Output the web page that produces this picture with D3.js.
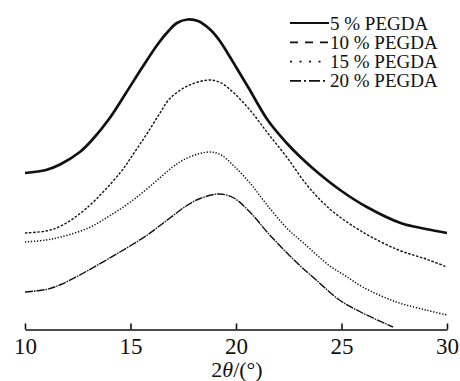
<!DOCTYPE html>
<html>
<head>
<meta charset="utf-8">
<script src="https://cdn.jsdelivr.net/npm/d3@7/dist/d3.min.js"></script>
<style>
  html, body { margin: 0; padding: 0; background: #fff; }
  svg { display: block; }
  text { font-family: "Liberation Serif", "Times New Roman", serif; fill: #111; }
</style>
</head>
<body>
<svg id="chart" width="460" height="381"></svg>
<script>
// XRD patterns of the PEGDA hydrogels (intensity in arbitrary units, curves offset)
const seriesNames = ["5 % PEGDA", "10 % PEGDA", "15 % PEGDA", "20 % PEGDA"];

const angle5 = [10, 11, 11.66, 12.6, 13.2, 14, 14.8, 15.6, 16.3, 16.8, 17.2, 17.7, 18.2, 18.8, 19.2, 19.6, 20, 20.6, 21.5, 22.4, 23, 23.9, 25, 26.2, 27.8, 29, 30];
const intensity5 = [1565, 1595, 1650, 1775, 1900, 2110, 2370, 2635, 2855, 2985, 3065, 3100, 3085, 2995, 2895, 2765, 2625, 2415, 2095, 1865, 1735, 1565, 1385, 1225, 1065, 1005, 965];

const angle10 = [10, 11, 11.7, 12.9, 14.5, 15.2, 15.8, 16.4, 16.8, 17.3, 17.7, 18.2, 18.8, 19.3, 19.9, 20.7, 21.5, 22.4, 23.4, 24.5, 26, 27.7, 29, 30];
const intensity10 = [965, 985, 1035, 1210, 1565, 1775, 1965, 2165, 2295, 2385, 2435, 2475, 2495, 2465, 2365, 2185, 1965, 1725, 1435, 1195, 975, 795, 705, 625];

const angle15 = [10, 11, 11.7, 13, 14, 15, 16, 17, 17.5, 18.2, 18.8, 19.3, 19.9, 20.7, 21.4, 22.4, 23.2, 24.45, 25.2, 26, 27.6, 29, 30];
const intensity15 = [875, 895, 925, 1015, 1135, 1275, 1445, 1625, 1695, 1755, 1775, 1745, 1635, 1455, 1265, 1015, 865, 635, 535, 425, 275, 195, 145];

const angle20 = [10, 11, 11.7, 12.9, 14.5, 15.8, 16.4, 16.9, 17.6, 18.3, 19.2, 19.9, 20.7, 21.6, 22.9, 23.8, 24.9, 26, 27.44];
const intensity20 = [375, 400, 450, 580, 775, 945, 1040, 1120, 1230, 1310, 1355, 1315, 1165, 945, 665, 495, 295, 165, 25];

const xTicks = [10, 15, 20, 25, 30];

const plotSeries = [
  { name: seriesNames[0], x: angle5,  y: intensity5,  width: 2.7, dash: null,        legendDash: null,       legendLen: 39 },
  { name: seriesNames[1], x: angle10, y: intensity10, width: 1.4, dash: "2.5,1.6",   legendDash: "8,7",      legendLen: 38 },
  { name: seriesNames[2], x: angle15, y: intensity15, width: 1.5, dash: "1.3,1.7",   legendDash: "2,7.5",    legendLen: 32 },
  { name: seriesNames[3], x: angle20, y: intensity20, width: 1.4, dash: "8,1,1.5,1", legendDash: "11,3,2,3", legendLen: 36 }
];

const svg = d3.select("#chart");

const x = d3.scaleLinear().domain([10, 30]).range([25, 447]);
const y = d3.scaleLinear().domain([0, 3295]).range([329.5, 0]);

const line = d3.line()
  .x(d => x(d[0]))
  .y(d => y(d[1]))
  .curve(d3.curveCatmullRom.alpha(0.5));

// curves
svg.append("g").selectAll("path")
  .data(plotSeries)
  .join("path")
  .attr("d", s => line(s.x.map((v, i) => [v, s.y[i]])))
  .attr("fill", "none")
  .attr("stroke", "#111")
  .attr("stroke-width", s => s.width)
  .attr("stroke-dasharray", s => s.dash)
  .attr("stroke-linejoin", "round");

// bottom axis with inward ticks
const axis = d3.axisBottom(x)
  .tickValues(xTicks)
  .tickFormat(d3.format("d"))
  .tickSizeInner(-6)
  .tickSizeOuter(0)
  .tickPadding(8);

const gx = svg.append("g")
  .attr("transform", "translate(0,329.5)")
  .call(axis);
gx.select(".domain").attr("stroke", "#111").attr("stroke-width", 1.6);
gx.selectAll(".tick line").attr("stroke", "#111").attr("stroke-width", 1.6);
gx.selectAll(".tick text")
  .attr("font-family", "'Liberation Serif', 'Times New Roman', serif")
  .attr("font-size", 23)
  .attr("fill", "#111");

// axis title: 2θ/(°)
const title = svg.append("text")
  .attr("x", 237)
  .attr("y", 377)
  .attr("text-anchor", "middle")
  .attr("font-size", 22);
title.append("tspan").text("2");
title.append("tspan").attr("font-style", "italic").text("θ");
title.append("tspan").text("/(°)");

// legend
const legend = svg.append("g");
const rows = legend.selectAll("g")
  .data(plotSeries)
  .join("g")
  .attr("transform", (d, i) => `translate(290,${23 + i * 19.3})`);
rows.append("line")
  .attr("x1", 0).attr("x2", d => d.legendLen)
  .attr("stroke", "#111")
  .attr("stroke-width", (d, i) => i === 0 ? 2 : 1.8)
  .attr("stroke-dasharray", d => d.legendDash);
rows.append("text")
  .attr("x", 40)
  .attr("y", 6.5)
  .attr("font-size", 19)
  .text(d => d.name);
</script>
</body>
</html>
